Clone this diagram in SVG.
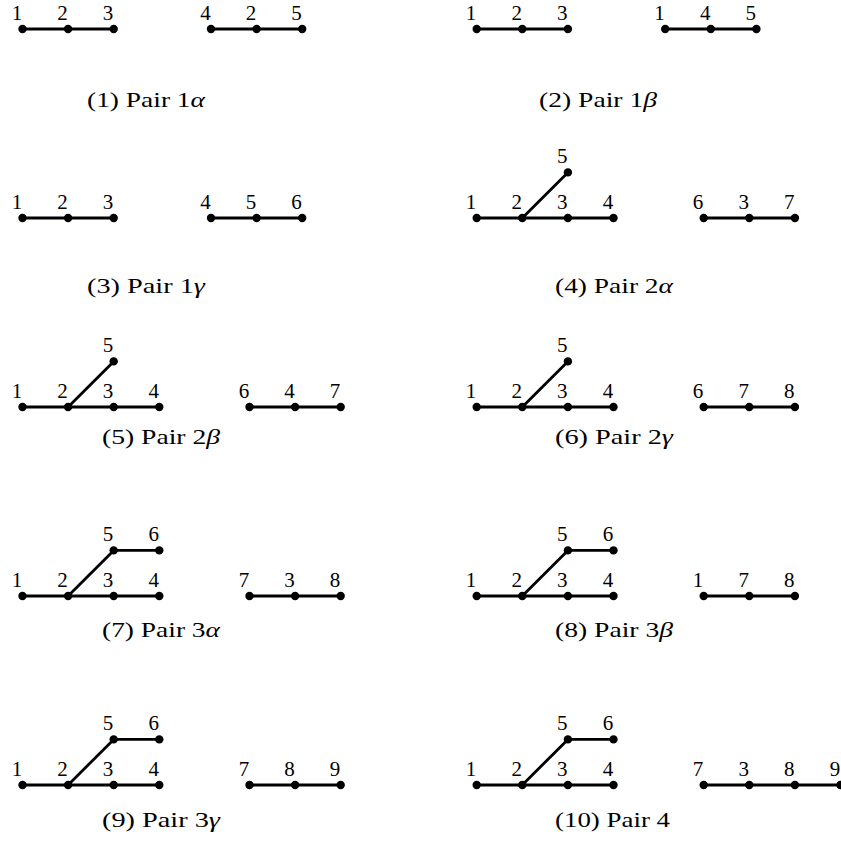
<svg xmlns="http://www.w3.org/2000/svg" width="841" height="855" viewBox="0 0 841 855">
<style>
  .e { stroke:#000; stroke-width:2.8; stroke-linecap:round; fill:none; }
  .v circle { fill:#000; }
  .v text, .cap { font-family:"Liberation Serif","Times New Roman",serif; font-size:21px; fill:#000; }
  .v text { text-anchor:middle; }
  .cap { font-size:22px; }
  .gr { font-style:italic; }
</style>
<rect width="841" height="855" fill="#fff"/>

<g id="connectors">
  <g id="p1-edges">
    <line class="e" x1="22.5" y1="29" x2="68.1" y2="29"/><line class="e" x1="68.1" y1="29" x2="113.7" y2="29"/>
    <line class="e" x1="211" y1="29" x2="256.6" y2="29"/><line class="e" x1="256.6" y1="29" x2="302.2" y2="29"/>
  </g>
  <g id="p2-edges">
    <line class="e" x1="476.7" y1="29" x2="522.3" y2="29"/><line class="e" x1="522.3" y1="29" x2="567.9" y2="29"/>
    <line class="e" x1="665.2" y1="29" x2="710.8" y2="29"/><line class="e" x1="710.8" y1="29" x2="756.4" y2="29"/>
  </g>
  <g id="p3-edges">
    <line class="e" x1="22.5" y1="218" x2="68.1" y2="218"/><line class="e" x1="68.1" y1="218" x2="113.7" y2="218"/>
    <line class="e" x1="211" y1="218" x2="256.6" y2="218"/><line class="e" x1="256.6" y1="218" x2="302.2" y2="218"/>
  </g>
  <g id="p4-edges">
    <line class="e" x1="476.7" y1="218" x2="522.3" y2="218"/><line class="e" x1="522.3" y1="218" x2="567.9" y2="218"/><line class="e" x1="567.9" y1="218" x2="613.5" y2="218"/>
    <line class="e" x1="522.3" y1="218" x2="567.9" y2="172.4"/>
    <line class="e" x1="703.7" y1="218" x2="749.3" y2="218"/><line class="e" x1="749.3" y1="218" x2="794.9" y2="218"/>
  </g>
  <g id="p5-edges">
    <line class="e" x1="22.5" y1="407" x2="68.1" y2="407"/><line class="e" x1="68.1" y1="407" x2="113.7" y2="407"/><line class="e" x1="113.7" y1="407" x2="159.3" y2="407"/>
    <line class="e" x1="68.1" y1="407" x2="113.7" y2="361.4"/>
    <line class="e" x1="249.5" y1="407" x2="295.1" y2="407"/><line class="e" x1="295.1" y1="407" x2="340.7" y2="407"/>
  </g>
  <g id="p6-edges">
    <line class="e" x1="476.7" y1="407" x2="522.3" y2="407"/><line class="e" x1="522.3" y1="407" x2="567.9" y2="407"/><line class="e" x1="567.9" y1="407" x2="613.5" y2="407"/>
    <line class="e" x1="522.3" y1="407" x2="567.9" y2="361.4"/>
    <line class="e" x1="703.7" y1="407" x2="749.3" y2="407"/><line class="e" x1="749.3" y1="407" x2="794.9" y2="407"/>
  </g>
  <g id="p7-edges">
    <line class="e" x1="22.5" y1="596" x2="68.1" y2="596"/><line class="e" x1="68.1" y1="596" x2="113.7" y2="596"/><line class="e" x1="113.7" y1="596" x2="159.3" y2="596"/>
    <line class="e" x1="68.1" y1="596" x2="113.7" y2="550.4"/><line class="e" x1="113.7" y1="550.4" x2="159.3" y2="550.4"/>
    <line class="e" x1="249.5" y1="596" x2="295.1" y2="596"/><line class="e" x1="295.1" y1="596" x2="340.7" y2="596"/>
  </g>
  <g id="p8-edges">
    <line class="e" x1="476.7" y1="596" x2="522.3" y2="596"/><line class="e" x1="522.3" y1="596" x2="567.9" y2="596"/><line class="e" x1="567.9" y1="596" x2="613.5" y2="596"/>
    <line class="e" x1="522.3" y1="596" x2="567.9" y2="550.4"/><line class="e" x1="567.9" y1="550.4" x2="613.5" y2="550.4"/>
    <line class="e" x1="703.7" y1="596" x2="749.3" y2="596"/><line class="e" x1="749.3" y1="596" x2="794.9" y2="596"/>
  </g>
  <g id="p9-edges">
    <line class="e" x1="22.5" y1="785" x2="68.1" y2="785"/><line class="e" x1="68.1" y1="785" x2="113.7" y2="785"/><line class="e" x1="113.7" y1="785" x2="159.3" y2="785"/>
    <line class="e" x1="68.1" y1="785" x2="113.7" y2="739.4"/><line class="e" x1="113.7" y1="739.4" x2="159.3" y2="739.4"/>
    <line class="e" x1="249.5" y1="785" x2="295.1" y2="785"/><line class="e" x1="295.1" y1="785" x2="340.7" y2="785"/>
  </g>
  <g id="p10-edges">
    <line class="e" x1="476.7" y1="785" x2="522.3" y2="785"/><line class="e" x1="522.3" y1="785" x2="567.9" y2="785"/><line class="e" x1="567.9" y1="785" x2="613.5" y2="785"/>
    <line class="e" x1="522.3" y1="785" x2="567.9" y2="739.4"/><line class="e" x1="567.9" y1="739.4" x2="613.5" y2="739.4"/>
    <line class="e" x1="703.7" y1="785" x2="749.3" y2="785"/><line class="e" x1="749.3" y1="785" x2="794.9" y2="785"/><line class="e" x1="794.9" y1="785" x2="840.5" y2="785"/>
  </g>
</g>

<!-- Panel 1 -->
<g id="p1-n1" class="v"><circle cx="22.5" cy="29" r="4.2"/><text x="16.9" y="20">1</text></g>
<g id="p1-n2" class="v"><circle cx="68.1" cy="29" r="4.2"/><text x="62.5" y="20">2</text></g>
<g id="p1-n3" class="v"><circle cx="113.7" cy="29" r="4.2"/><text x="108.1" y="20">3</text></g>
<g id="p1-m4" class="v"><circle cx="211" cy="29" r="4.2"/><text x="205.4" y="20">4</text></g>
<g id="p1-m2" class="v"><circle cx="256.6" cy="29" r="4.2"/><text x="251" y="20">2</text></g>
<g id="p1-m5" class="v"><circle cx="302.2" cy="29" r="4.2"/><text x="296.6" y="20">5</text></g>
<text class="cap" x="87" y="107" textLength="118" lengthAdjust="spacingAndGlyphs">(1) Pair 1<tspan class="gr">α</tspan></text>

<!-- Panel 2 -->
<g id="p2-n1" class="v"><circle cx="476.7" cy="29" r="4.2"/><text x="471.1" y="20">1</text></g>
<g id="p2-n2" class="v"><circle cx="522.3" cy="29" r="4.2"/><text x="516.7" y="20">2</text></g>
<g id="p2-n3" class="v"><circle cx="567.9" cy="29" r="4.2"/><text x="562.3" y="20">3</text></g>
<g id="p2-m1" class="v"><circle cx="665.2" cy="29" r="4.2"/><text x="659.6" y="20">1</text></g>
<g id="p2-m4" class="v"><circle cx="710.8" cy="29" r="4.2"/><text x="705.2" y="20">4</text></g>
<g id="p2-m5" class="v"><circle cx="756.4" cy="29" r="4.2"/><text x="750.8" y="20">5</text></g>
<text class="cap" x="539" y="107" textLength="118" lengthAdjust="spacingAndGlyphs">(2) Pair 1<tspan class="gr">β</tspan></text>

<!-- Panel 3 -->
<g id="p3-n1" class="v"><circle cx="22.5" cy="218" r="4.2"/><text x="16.9" y="209">1</text></g>
<g id="p3-n2" class="v"><circle cx="68.1" cy="218" r="4.2"/><text x="62.5" y="209">2</text></g>
<g id="p3-n3" class="v"><circle cx="113.7" cy="218" r="4.2"/><text x="108.1" y="209">3</text></g>
<g id="p3-m4" class="v"><circle cx="211" cy="218" r="4.2"/><text x="205.4" y="209">4</text></g>
<g id="p3-m5" class="v"><circle cx="256.6" cy="218" r="4.2"/><text x="251" y="209">5</text></g>
<g id="p3-m6" class="v"><circle cx="302.2" cy="218" r="4.2"/><text x="296.6" y="209">6</text></g>
<text class="cap" x="87" y="293" textLength="118" lengthAdjust="spacingAndGlyphs">(3) Pair 1<tspan class="gr">γ</tspan></text>

<!-- Panel 4 -->
<g id="p4-n1" class="v"><circle cx="476.7" cy="218" r="4.2"/><text x="471.1" y="209">1</text></g>
<g id="p4-n2" class="v"><circle cx="522.3" cy="218" r="4.2"/><text x="516.7" y="209">2</text></g>
<g id="p4-n3" class="v"><circle cx="567.9" cy="218" r="4.2"/><text x="562.3" y="209">3</text></g>
<g id="p4-n4" class="v"><circle cx="613.5" cy="218" r="4.2"/><text x="607.9" y="209">4</text></g>
<g id="p4-n5" class="v"><circle cx="567.9" cy="172.4" r="4.2"/><text x="562.3" y="163.4">5</text></g>
<g id="p4-m6" class="v"><circle cx="703.7" cy="218" r="4.2"/><text x="698.1" y="209">6</text></g>
<g id="p4-m3" class="v"><circle cx="749.3" cy="218" r="4.2"/><text x="743.7" y="209">3</text></g>
<g id="p4-m7" class="v"><circle cx="794.9" cy="218" r="4.2"/><text x="789.3" y="209">7</text></g>
<text class="cap" x="555" y="293" textLength="118" lengthAdjust="spacingAndGlyphs">(4) Pair 2<tspan class="gr">α</tspan></text>

<!-- Panel 5 -->
<g id="p5-n1" class="v"><circle cx="22.5" cy="407" r="4.2"/><text x="16.9" y="398">1</text></g>
<g id="p5-n2" class="v"><circle cx="68.1" cy="407" r="4.2"/><text x="62.5" y="398">2</text></g>
<g id="p5-n3" class="v"><circle cx="113.7" cy="407" r="4.2"/><text x="108.1" y="398">3</text></g>
<g id="p5-n4" class="v"><circle cx="159.3" cy="407" r="4.2"/><text x="153.7" y="398">4</text></g>
<g id="p5-n5" class="v"><circle cx="113.7" cy="361.4" r="4.2"/><text x="108.1" y="352.4">5</text></g>
<g id="p5-m6" class="v"><circle cx="249.5" cy="407" r="4.2"/><text x="243.9" y="398">6</text></g>
<g id="p5-m4" class="v"><circle cx="295.1" cy="407" r="4.2"/><text x="289.5" y="398">4</text></g>
<g id="p5-m7" class="v"><circle cx="340.7" cy="407" r="4.2"/><text x="335.1" y="398">7</text></g>
<text class="cap" x="102" y="444" textLength="118" lengthAdjust="spacingAndGlyphs">(5) Pair 2<tspan class="gr">β</tspan></text>

<!-- Panel 6 -->
<g id="p6-n1" class="v"><circle cx="476.7" cy="407" r="4.2"/><text x="471.1" y="398">1</text></g>
<g id="p6-n2" class="v"><circle cx="522.3" cy="407" r="4.2"/><text x="516.7" y="398">2</text></g>
<g id="p6-n3" class="v"><circle cx="567.9" cy="407" r="4.2"/><text x="562.3" y="398">3</text></g>
<g id="p6-n4" class="v"><circle cx="613.5" cy="407" r="4.2"/><text x="607.9" y="398">4</text></g>
<g id="p6-n5" class="v"><circle cx="567.9" cy="361.4" r="4.2"/><text x="562.3" y="352.4">5</text></g>
<g id="p6-m6" class="v"><circle cx="703.7" cy="407" r="4.2"/><text x="698.1" y="398">6</text></g>
<g id="p6-m7" class="v"><circle cx="749.3" cy="407" r="4.2"/><text x="743.7" y="398">7</text></g>
<g id="p6-m8" class="v"><circle cx="794.9" cy="407" r="4.2"/><text x="789.3" y="398">8</text></g>
<text class="cap" x="555" y="444" textLength="118" lengthAdjust="spacingAndGlyphs">(6) Pair 2<tspan class="gr">γ</tspan></text>

<!-- Panel 7 -->
<g id="p7-n1" class="v"><circle cx="22.5" cy="596" r="4.2"/><text x="16.9" y="587">1</text></g>
<g id="p7-n2" class="v"><circle cx="68.1" cy="596" r="4.2"/><text x="62.5" y="587">2</text></g>
<g id="p7-n3" class="v"><circle cx="113.7" cy="596" r="4.2"/><text x="108.1" y="587">3</text></g>
<g id="p7-n4" class="v"><circle cx="159.3" cy="596" r="4.2"/><text x="153.7" y="587">4</text></g>
<g id="p7-n5" class="v"><circle cx="113.7" cy="550.4" r="4.2"/><text x="108.1" y="541.4">5</text></g>
<g id="p7-n6" class="v"><circle cx="159.3" cy="550.4" r="4.2"/><text x="153.7" y="541.4">6</text></g>
<g id="p7-m7" class="v"><circle cx="249.5" cy="596" r="4.2"/><text x="243.9" y="587">7</text></g>
<g id="p7-m3" class="v"><circle cx="295.1" cy="596" r="4.2"/><text x="289.5" y="587">3</text></g>
<g id="p7-m8" class="v"><circle cx="340.7" cy="596" r="4.2"/><text x="335.1" y="587">8</text></g>
<text class="cap" x="102" y="637" textLength="118" lengthAdjust="spacingAndGlyphs">(7) Pair 3<tspan class="gr">α</tspan></text>

<!-- Panel 8 -->
<g id="p8-n1" class="v"><circle cx="476.7" cy="596" r="4.2"/><text x="471.1" y="587">1</text></g>
<g id="p8-n2" class="v"><circle cx="522.3" cy="596" r="4.2"/><text x="516.7" y="587">2</text></g>
<g id="p8-n3" class="v"><circle cx="567.9" cy="596" r="4.2"/><text x="562.3" y="587">3</text></g>
<g id="p8-n4" class="v"><circle cx="613.5" cy="596" r="4.2"/><text x="607.9" y="587">4</text></g>
<g id="p8-n5" class="v"><circle cx="567.9" cy="550.4" r="4.2"/><text x="562.3" y="541.4">5</text></g>
<g id="p8-n6" class="v"><circle cx="613.5" cy="550.4" r="4.2"/><text x="607.9" y="541.4">6</text></g>
<g id="p8-m1" class="v"><circle cx="703.7" cy="596" r="4.2"/><text x="698.1" y="587">1</text></g>
<g id="p8-m7" class="v"><circle cx="749.3" cy="596" r="4.2"/><text x="743.7" y="587">7</text></g>
<g id="p8-m8" class="v"><circle cx="794.9" cy="596" r="4.2"/><text x="789.3" y="587">8</text></g>
<text class="cap" x="555" y="637" textLength="118" lengthAdjust="spacingAndGlyphs">(8) Pair 3<tspan class="gr">β</tspan></text>

<!-- Panel 9 -->
<g id="p9-n1" class="v"><circle cx="22.5" cy="785" r="4.2"/><text x="16.9" y="776">1</text></g>
<g id="p9-n2" class="v"><circle cx="68.1" cy="785" r="4.2"/><text x="62.5" y="776">2</text></g>
<g id="p9-n3" class="v"><circle cx="113.7" cy="785" r="4.2"/><text x="108.1" y="776">3</text></g>
<g id="p9-n4" class="v"><circle cx="159.3" cy="785" r="4.2"/><text x="153.7" y="776">4</text></g>
<g id="p9-n5" class="v"><circle cx="113.7" cy="739.4" r="4.2"/><text x="108.1" y="730.4">5</text></g>
<g id="p9-n6" class="v"><circle cx="159.3" cy="739.4" r="4.2"/><text x="153.7" y="730.4">6</text></g>
<g id="p9-m7" class="v"><circle cx="249.5" cy="785" r="4.2"/><text x="243.9" y="776">7</text></g>
<g id="p9-m8" class="v"><circle cx="295.1" cy="785" r="4.2"/><text x="289.5" y="776">8</text></g>
<g id="p9-m9" class="v"><circle cx="340.7" cy="785" r="4.2"/><text x="335.1" y="776">9</text></g>
<text class="cap" x="102" y="827" textLength="118" lengthAdjust="spacingAndGlyphs">(9) Pair 3<tspan class="gr">γ</tspan></text>

<!-- Panel 10 -->
<g id="p10-n1" class="v"><circle cx="476.7" cy="785" r="4.2"/><text x="471.1" y="776">1</text></g>
<g id="p10-n2" class="v"><circle cx="522.3" cy="785" r="4.2"/><text x="516.7" y="776">2</text></g>
<g id="p10-n3" class="v"><circle cx="567.9" cy="785" r="4.2"/><text x="562.3" y="776">3</text></g>
<g id="p10-n4" class="v"><circle cx="613.5" cy="785" r="4.2"/><text x="607.9" y="776">4</text></g>
<g id="p10-n5" class="v"><circle cx="567.9" cy="739.4" r="4.2"/><text x="562.3" y="730.4">5</text></g>
<g id="p10-n6" class="v"><circle cx="613.5" cy="739.4" r="4.2"/><text x="607.9" y="730.4">6</text></g>
<g id="p10-m7" class="v"><circle cx="703.7" cy="785" r="4.2"/><text x="698.1" y="776">7</text></g>
<g id="p10-m3" class="v"><circle cx="749.3" cy="785" r="4.2"/><text x="743.7" y="776">3</text></g>
<g id="p10-m8" class="v"><circle cx="794.9" cy="785" r="4.2"/><text x="789.3" y="776">8</text></g>
<g id="p10-m9" class="v"><circle cx="840.5" cy="785" r="4.2"/><text x="834.9" y="776">9</text></g>
<text class="cap" x="555" y="827" textLength="115" lengthAdjust="spacingAndGlyphs">(10) Pair 4</text>
</svg>
